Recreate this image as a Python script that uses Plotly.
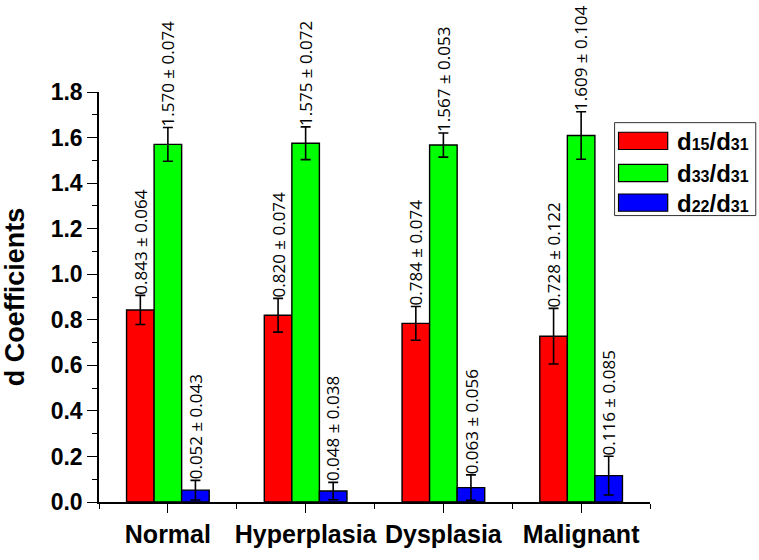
import plotly.graph_objects as go

categories = ["Normal", "Hyperplasia", "Dysplasia", "Malignant"]
legend_labels = [("15", "31"), ("33", "31"), ("22", "31")]
d15_mean = [0.843, 0.820, 0.784, 0.728]
d15_err = [0.064, 0.074, 0.074, 0.122]
d33_mean = [1.570, 1.575, 1.567, 1.609]
d33_err = [0.074, 0.072, 0.053, 0.104]
d22_mean = [0.052, 0.048, 0.063, 0.116]
d22_err = [0.043, 0.038, 0.056, 0.085]
colors = ["#FF0000", "#00FF00", "#0000FF"]
y_ticks = [0.0, 0.2, 0.4, 0.6, 0.8, 1.0, 1.2, 1.4, 1.6, 1.8]

means = [d15_mean, d33_mean, d22_mean]
errs = [d15_err, d33_err, d22_err]
series_names = [f"d{a}/d{b}" for a, b in legend_labels]

W, H = 759, 560
ML, MR, MT, MB = 90, 109, 92, 40
PW, PH = W - ML - MR, H - MT - MB

xpos = list(range(len(categories)))
bar_w = 0.2
offsets = [-bar_w, 0.0, bar_w]

fig = go.Figure()
for k in range(3):
    fig.add_trace(go.Bar(
        x=xpos, y=means[k], name=series_names[k],
        width=bar_w, offset=offsets[k] - bar_w / 2,
        marker=dict(color=colors[k], line=dict(color="#000000", width=1.4)),
        error_y=dict(type="data", array=errs[k], visible=True,
                     color="#000000", thickness=1.6, width=5),
        showlegend=False,
    ))

annotations = []
for k in range(3):
    for i in range(len(categories)):
        v, e = means[k][i], errs[k][i]
        annotations.append(dict(
            x=xpos[i] + offsets[k], y=v + e, xref="x", yref="y",
            text=f"{v:.3f} ± {e:.3f}", textangle=-90,
            xanchor="center", yanchor="bottom", showarrow=False,
            font=dict(family="Open Sans, Liberation Sans, sans-serif", size=17, color="#000000"),
            borderpad=0,
        ))

# custom legend (pixel layout converted to paper coordinates)
def px2paper_x(px):
    return (px - ML) / PW

def px2paper_y(py):
    return (H - MB - py) / PH

shapes = [dict(type="rect", xref="paper", yref="paper",
               x0=px2paper_x(614), x1=px2paper_x(757.5),
               y0=px2paper_y(221), y1=px2paper_y(124),
               line=dict(color="#333333", width=1), fillcolor="rgba(0,0,0,0)")]
row_centers = [143, 176.5, 207.5]
for k in range(3):
    cy = row_centers[k]
    shapes.append(dict(type="rect", xref="paper", yref="paper",
                       x0=px2paper_x(618), x1=px2paper_x(668),
                       y0=px2paper_y(cy + 9), y1=px2paper_y(cy - 9),
                       line=dict(color="#000000", width=1.2), fillcolor=colors[k]))
    a, b = legend_labels[k]
    annotations.append(dict(
        x=px2paper_x(752), y=px2paper_y(cy + 1), xref="paper", yref="paper",
        text=(f"<b>d<span style='font-size:16px'>{a}</span>/d"
              f"<span style='font-size:16px'>{b}</span></b>"),
        xanchor="right", yanchor="middle", showarrow=False, borderpad=0,
        font=dict(family="Liberation Sans, Arial, sans-serif", size=24, color="#000000"),
    ))

fig.update_layout(
    width=W, height=H,
    margin=dict(l=ML, r=MR, t=MT, b=MB, pad=0),
    paper_bgcolor="white", plot_bgcolor="white",
    barmode="overlay",
    shapes=shapes, annotations=annotations,
    font=dict(family="Liberation Sans, Arial, sans-serif", color="#000000"),
    xaxis=dict(
        range=[-0.5, 3.5], tickmode="array", tickvals=xpos, ticktext=categories,
        ticks="outside", ticklen=9, tickwidth=1.4, tickcolor="#000000",
        showline=True, linecolor="#000000", linewidth=1.5,
        showgrid=False, zeroline=False,
        tickfont=dict(family="Liberation Sans, Arial, sans-serif", size=25, color="#000000", weight="bold"),
        minor=dict(tickmode="array", tickvals=[-0.5, 0.5, 1.5, 2.5, 3.5],
                   ticks="outside", ticklen=5, tickwidth=1.4, tickcolor="#000000", showgrid=False),
    ),
    yaxis=dict(
        range=[0, 1.8], tickmode="array", tickvals=y_ticks,
        ticktext=[f"{t:.1f}" for t in y_ticks],
        ticks="outside", ticklen=10, tickwidth=1.4, tickcolor="#000000",
        showline=True, linecolor="#000000", linewidth=1.5,
        showgrid=False, zeroline=False,
        tickfont=dict(family="Liberation Sans, Arial, sans-serif", size=23, color="#000000", weight="bold"),
        title=dict(text="<b>d Coefficients</b>", standoff=20,
                   font=dict(family="Liberation Sans, Arial, sans-serif", size=27, color="#000000")),
        minor=dict(dtick=0.1, tick0=0, ticks="outside", ticklen=5, tickwidth=1.4,
                   tickcolor="#000000", showgrid=False),
    ),
)

fig.write_html("out.html",
               config={"displayModeBar": False},
               post_script="document.body.style.margin='0';document.body.style.overflow='hidden';")
